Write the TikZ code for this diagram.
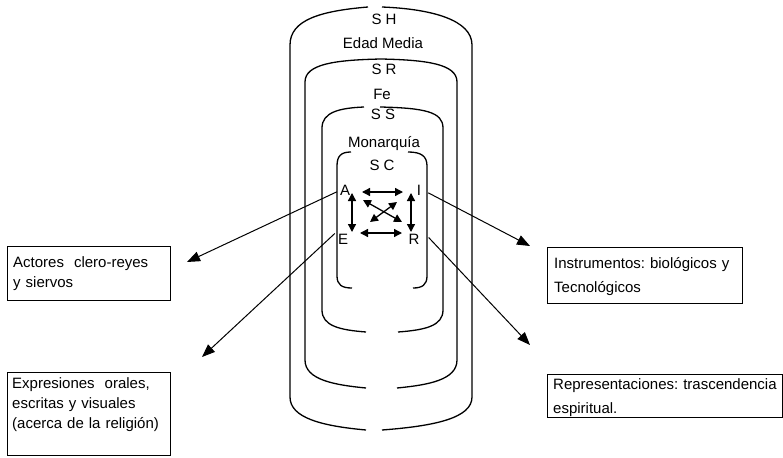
\documentclass[tikz,border=0pt]{standalone}
\usepackage{fontspec}
\setmainfont{Liberation Sans}
\usetikzlibrary{arrows.meta}
\begin{document}
\frenchspacing
\begin{tikzpicture}[x=1pt,y=-1pt,
  font=\fontsize{15}{18}\selectfont,
  ring/.style={line width=1.3pt},
  lbl/.style={inner sep=0pt, anchor=base},
  bigarrow/.style={line width=1pt,-{Triangle[length=13pt,width=10pt]}},
  smallarrow/.style={line width=1.3pt,{Triangle[length=8pt,width=8pt]}-{Triangle[length=8pt,width=8pt]}},
  boxframe/.style={draw, line width=1.2pt, anchor=north west, inner sep=0pt},
  boxtext/.style={anchor=base west, align=left, inner sep=0pt, text width=230pt}]
\useasboundingbox (0,0) rectangle (783,457);

% --- nested rings ---
% SH
\draw[ring] (366,430) .. controls (322,426) and (290,418) .. (290,397) -- (290,45) .. controls (290,20) and (320,11) .. (368,7);
\draw[ring] (382,7) .. controls (432,9) and (472,20) .. (472,45) -- (472,397) .. controls (472,418) and (435,426) .. (382,430);
% SR
\draw[ring] (366,388) .. controls (335,385) and (305,380) .. (305,360) -- (305,82) .. controls (305,64) and (335,60) .. (381,59) .. controls (427,60) and (457,64) .. (457,82) -- (457,360) .. controls (457,380) and (428,385) .. (397,388);
% SS
\draw[ring] (366,332) .. controls (340,330) and (322,326) .. (322,310) -- (322,128) .. controls (322,112) and (340,108) .. (364,107);
\draw[ring] (380,107) .. controls (425,108) and (443,112) .. (443,128) -- (443,310) .. controls (443,326) and (425,330) .. (398,332);
% SC
\draw[ring] (352,288) .. controls (342,288) and (337,285) .. (337,276) -- (337,166) .. controls (337,156) and (341,152) .. (351,152);
\draw[ring] (408,152) .. controls (421,152) and (427,156) .. (427,166) -- (427,276) .. controls (427,285) and (422,288) .. (413,288);

% --- ring labels ---
\node[lbl] (sh) at (384,25) {S H};
\node[lbl] (edad) at (383,49) {Edad Media};
\node[lbl] (sr) at (384,75) {S R};
\node[lbl] (fe) at (382,100) {Fe};
\node[lbl] (ss) at (383,120) {S S};
\node[lbl] (mon) at (384,147) {Monarquía};
\node[lbl] (sc) at (382,170) {S C};

% --- corner letters ---
\node[lbl] (A) at (345,195) {A};
\node[lbl] (I) at (419,195) {I};
\node[lbl] (E) at (343,244) {E};
\node[lbl] (R) at (414,244) {R};

% --- inner arrows ---
\coordinate (v1a) at (352,193); \coordinate (v1b) at (352,232);
\coordinate (v2a) at (411,193); \coordinate (v2b) at (411,232);
\coordinate (h1a) at (362,192); \coordinate (h1b) at (403,192);
\coordinate (h2a) at (360,233); \coordinate (h2b) at (402,233);
\coordinate (d1a) at (363,200); \coordinate (d1b) at (402,222);
\coordinate (d2a) at (397,202); \coordinate (d2b) at (370,222);
\draw[smallarrow] (v1a) -- (v1b);
\draw[smallarrow] (v2a) -- (v2b);
\draw[smallarrow] (h1a) -- (h1b);
\draw[smallarrow] (h2a) -- (h2b);
\draw[smallarrow] (d1a) -- (d1b);
\draw[smallarrow] (d2a) -- (d2b);

% --- boxes ---
\node[boxframe, minimum width=163pt, minimum height=54pt] (actbox) at (7,246) {};
\node[boxtext, font=\fontsize{15}{20.5}\selectfont] (acttext) at (13,267) {Actores\ \ clero-reyes\\y siervos};

\node[boxframe, minimum width=163pt, minimum height=83pt] (expbox) at (7,372) {};
\node[boxtext, font=\fontsize{15}{20}\selectfont] (exptext) at (12,388) {Expresiones\ \ orales,\\escritas y visuales\\(acerca de la religión)};

\node[boxframe, minimum width=195pt, minimum height=56pt] (insbox) at (547,247) {};
\node[boxtext, font=\fontsize{15}{24}\selectfont] (instext) at (554,268) {Instrumentos: biológicos y\\Tecnológicos};

\node[boxframe, minimum width=235pt, minimum height=43pt] (repbox) at (547,374) {};
\node[boxtext, font=\fontsize{15}{24}\selectfont] (reptext) at (553,389) {Representaciones: trascendencia\\espiritual.};

% --- outer arrows ---
\coordinate (Atip) at (187,262);
\coordinate (Etip) at (202,357);
\coordinate (Itip) at (530,246);
\coordinate (Rtip) at (530,345);
\draw[bigarrow] ([shift={(-3pt,-2pt)}]A.west) -- (Atip);
\draw[bigarrow] ([xshift=-3pt]E.north west) -- (Etip);
\draw[bigarrow] ([shift={(7pt,-3pt)}]I.east) -- (Itip);
\draw[bigarrow] ([shift={(9pt,-4pt)}]R.north east) -- (Rtip);
\end{tikzpicture}
\end{document}
